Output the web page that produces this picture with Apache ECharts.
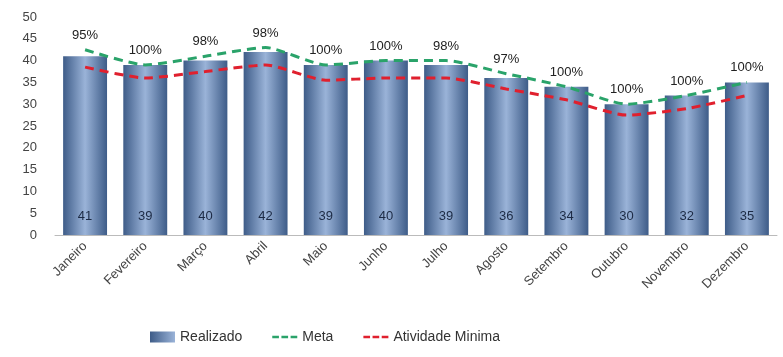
<!DOCTYPE html>
<html>
<head>
<meta charset="utf-8">
<script src="https://cdn.jsdelivr.net/npm/echarts@6/dist/echarts.min.js"></script>
<style>html,body{margin:0;padding:0;background:#fff}#c{width:783px;height:357px}</style>
</head>
<body>
<div id="c"></div>
<script>
const months = ['Janeiro','Fevereiro','Março','Abril','Maio','Junho','Julho','Agosto','Setembro','Outubro','Novembro','Dezembro'];
const realizado = [41,39,40,42,39,40,39,36,34,30,32,35];
const meta = [42.5,39,41,43,39,40,40,37,34,30,32,35];
const atividadeMinima = [38.5,36,37.5,39,35.5,36,36,33.5,31,27.5,29,32];
const pctLabels = ['95%','100%','98%','98%','100%','100%','98%','97%','100%','100%','100%','100%'];
const yTicks = [0,5,10,15,20,25,30,35,40,45,50];

const barGrad = new echarts.graphic.LinearGradient(0,0,1,0,[
  {offset:0,color:'#3e5c88'},
  {offset:0.5,color:'#9ab3d8'},
  {offset:1,color:'#3e5c88'}
]);
const font = 'Liberation Sans, DejaVu Sans, sans-serif';
const dashIcon = 'path://M0,0h8v3h-8z M11,0h8v3h-8z M22,0h8v3h-8z';
const chart = echarts.init(document.getElementById('c'));
chart.setOption({
  animation:false,
  backgroundColor:'#fff',
  grid:{left:55,right:6,top:17,bottom:122},
  legend:{
    bottom:8,left:145,itemGap:30,itemHeight:11,
    textStyle:{fontFamily:font,fontSize:14,color:'#333'},
    data:[
      {name:'Realizado',icon:'rect',itemWidth:46,itemHeight:11,itemStyle:{color:new echarts.graphic.LinearGradient(0,0,1,0,[{offset:0,color:'#3e5c88'},{offset:1,color:'#9ab3d8'}])}},
      {name:'Meta',icon:dashIcon,itemWidth:30,itemHeight:3,itemStyle:{color:'#2aa36a',opacity:1}},
      {name:'Atividade Minima',icon:dashIcon,itemWidth:34,itemHeight:3,itemStyle:{color:'#e0202e',opacity:1}}
    ]
  },
  xAxis:{
    type:'category',data:months,
    axisLine:{lineStyle:{color:'#bbb'}},axisTick:{show:false},
    axisLabel:{rotate:45,interval:0,fontFamily:font,fontSize:13,color:'#444',margin:9}
  },
  yAxis:{
    type:'value',min:0,max:50,interval:5,
    splitLine:{show:false},axisLine:{show:false},axisTick:{show:false},
    axisLabel:{fontFamily:font,fontSize:13,color:'#444',margin:18,
      formatter:v=>yTicks.includes(v)?String(v):''}
  },
  series:[
    {name:'Realizado',type:'bar',data:realizado,barWidth:'73%',
     itemStyle:{color:barGrad},
     label:{show:true,position:'insideBottom',distance:12,fontFamily:font,fontSize:13,color:'#1c2a44'}},
    {name:'Meta',type:'line',data:meta,symbol:'circle',symbolSize:2,showSymbol:true,smooth:0.2,
     lineStyle:{color:'#2aa36a',width:3,type:[9,6]},itemStyle:{color:'rgba(0,0,0,0)'},
     label:{show:true,position:'top',distance:7,fontFamily:font,fontSize:13,color:'#222',
       formatter:p=>pctLabels[p.dataIndex]},
     labelLayout:{hideOverlap:false}},
    {name:'Atividade Minima',type:'line',data:atividadeMinima,symbol:'none',smooth:0.2,
     lineStyle:{color:'#e0202e',width:3,type:[9,6]},itemStyle:{color:'#e0202e'}}
  ]
});
</script>
</body>
</html>
